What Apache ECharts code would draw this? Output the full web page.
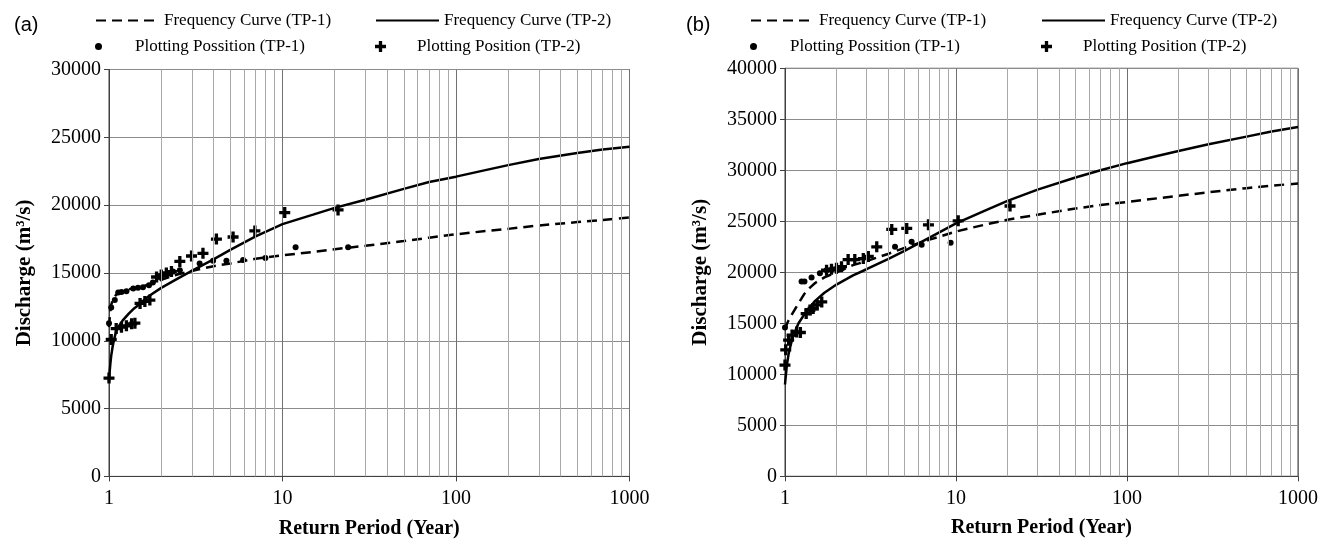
<!DOCTYPE html>
<html>
<head>
<meta charset="utf-8">
<script src="https://cdn.jsdelivr.net/npm/echarts@6/dist/echarts.min.js"></script>
<style>html,body{margin:0;padding:0;background:#fff;}#c{width:1332px;height:544px;}</style>
</head>
<body>
<div id="c"></div>
<script>
// ---------- data ----------
const curveT = [1, 1.01, 1.02, 1.03, 1.05, 1.07, 1.1, 1.15, 1.2, 1.3, 1.4, 1.5, 1.7, 2, 2.5, 3, 4, 5, 7, 10, 15, 20, 30, 50, 70, 100, 150, 200, 300, 500, 700, 1000];
// panel (a)
const aFreq1 = [11000, 11700, 12300, 12650, 13000, 13200, 13400, 13550, 13650, 13800, 13880, 13950, 14150, 14500, 14900, 15150, 15500, 15700, 16050, 16300, 16550, 16750, 17000, 17350, 17600, 17850, 18100, 18250, 18500, 18750, 18900, 19100];
const aFreq2 = [7000, 7800, 8400, 8900, 9600, 10100, 10700, 11150, 11500, 12000, 12400, 12700, 13300, 13900, 14600, 15150, 16000, 16700, 17700, 18600, 19300, 19800, 20400, 21200, 21700, 22100, 22600, 22950, 23400, 23850, 24100, 24300];
const aPos1T = [1.0, 1.03, 1.08, 1.13, 1.18, 1.26, 1.38, 1.47, 1.57, 1.7, 1.79, 1.92, 2.05, 2.19, 2.34, 2.56, 3.33, 3.98, 4.75, 5.93, 7.97, 11.9, 23.9];
const aPos1Q = [11300, 12450, 13000, 13550, 13600, 13650, 13850, 13900, 13950, 14100, 14300, 14700, 14850, 14950, 15100, 15200, 15700, 15900, 15900, 15950, 16100, 16900, 16900];
const aPos2T = [1.0, 1.03, 1.1, 1.18, 1.26, 1.35, 1.41, 1.51, 1.61, 1.72, 1.88, 2.0, 2.14, 2.29, 2.56, 2.99, 3.48, 4.16, 5.19, 6.93, 10.3, 20.9];
const aPos2Q = [7250, 10100, 10900, 11000, 11100, 11250, 11300, 12750, 12900, 13000, 14700, 14850, 15000, 15100, 15850, 16250, 16450, 17500, 17650, 18100, 19450, 19650];
// panel (b)
const bFreq1 = [14400, 14600, 14800, 15000, 15300, 15550, 15900, 16450, 16950, 17900, 18500, 18950, 19500, 20000, 20700, 21100, 21800, 22400, 23200, 24000, 24700, 25150, 25650, 26250, 26600, 26900, 27250, 27500, 27850, 28250, 28500, 28700];
const bFreq2 = [9000, 9800, 10500, 11100, 12000, 12600, 13400, 14300, 15000, 15900, 16600, 17200, 18000, 18800, 19700, 20300, 21300, 22100, 23400, 24800, 26100, 27000, 28100, 29300, 30000, 30700, 31400, 31900, 32550, 33300, 33800, 34250];
const bPos1T = [1.0, 1.25, 1.3, 1.43, 1.6, 1.75, 1.87, 2.0, 2.15, 4.4, 5.5, 6.3, 9.3];
const bPos1Q = [14600, 19100, 19100, 19500, 19900, 20200, 20250, 20300, 20400, 22500, 23000, 22700, 22900];
const bPos2T = [1.0, 1.01, 1.05, 1.1, 1.17, 1.23, 1.33, 1.4, 1.46, 1.54, 1.64, 1.75, 1.87, 2.0, 2.14, 2.34, 2.56, 2.87, 3.07, 3.44, 4.21, 5.15, 6.9, 10.3, 20.7];
const bPos2Q = [10900, 12400, 13350, 13850, 14150, 14100, 15950, 16300, 16450, 16800, 17100, 20200, 20300, 20400, 20550, 21250, 21250, 21350, 21550, 22500, 24200, 24300, 24650, 25050, 26500];
// axis ticks
const minorT = [2, 3, 4, 5, 6, 7, 8, 9, 20, 30, 40, 50, 60, 70, 80, 90, 200, 300, 400, 500, 600, 700, 800, 900];
const yMaxA = 30000, yMaxB = 40000, yStep = 5000;
const names = ['Frequency Curve (TP-1)', 'Frequency Curve (TP-2)', 'Plotting Possition (TP-1)', 'Plotting Position (TP-2)'];

// ---------- helpers ----------
const zip = (x, y) => x.map((v, i) => [v, y[i]]);
const serif = 'Liberation Serif, Times New Roman, serif';
const plusPath = 'path://M3.5,0h3v3.5h3.5v3h-3.5v3.5h-3v-3.5h-3.5v-3h3.5z';

function mkX(i) {
  return {
    type: 'log', logBase: 10, min: 1, max: 1000, gridIndex: i,
    name: 'Return Period (Year)', nameLocation: 'middle', nameGap: 42,
    nameTextStyle: {fontFamily: serif, fontWeight: 'bold', fontSize: 20, color: '#000'},
    axisLine: {show: true, onZero: false, lineStyle: {color: '#404040', width: 1}},
    axisTick: {show: true, length: 5, lineStyle: {color: '#404040'}},
    axisLabel: {margin: 12, fontFamily: serif, fontSize: 20, color: '#000',
      formatter: v => String(Math.round(v))},
    splitLine: {show: true, lineStyle: {color: '#707070', width: 1}}
  };
}
function mkY(i, max) {
  return {
    type: 'value', min: 0, max: max, interval: yStep, gridIndex: i,
    name: 'Discharge (m³/s)', nameLocation: 'middle', nameGap: 74,
    nameTextStyle: {fontFamily: serif, fontWeight: 'bold', fontSize: 21, color: '#000'},
    axisLine: {show: true, onZero: false, lineStyle: {color: '#404040', width: 1}},
    axisTick: {show: true, length: 5, lineStyle: {color: '#404040'}},
    axisLabel: {margin: 8, fontFamily: serif, fontSize: 20, color: '#000',
      formatter: v => String(v)},
    splitLine: {show: true, lineStyle: {color: '#8c8c8c', width: 1}}
  };
}
function mkSeries(i, f1, f2, p1T, p1Q, p2T, p2Q) {
  return [
    {type: 'line', xAxisIndex: i, yAxisIndex: i, data: [], silent: true, z: 1,
      markLine: {silent: true, animation: false, symbol: ['none', 'none'], label: {show: false},
        lineStyle: {color: '#a8a8a8', width: 1, type: 'solid'},
        emphasis: {disabled: true},
        data: minorT.map(v => ({xAxis: v}))}},
    {type: 'line', name: names[0], xAxisIndex: i, yAxisIndex: i, data: zip(curveT, f1), z: 3,
      symbol: 'none', showSymbol: false, smooth: false,
      lineStyle: {type: [10, 6], width: 2.5, color: '#000'}, itemStyle: {color: '#000'}},
    {type: 'line', name: names[1], xAxisIndex: i, yAxisIndex: i, data: zip(curveT, f2), z: 3,
      symbol: 'none', showSymbol: false, smooth: false,
      lineStyle: {type: 'solid', width: 2.5, color: '#000'}, itemStyle: {color: '#000'}},
    {type: 'scatter', name: names[2], xAxisIndex: i, yAxisIndex: i, data: zip(p1T, p1Q), z: 4,
      symbol: 'circle', symbolSize: 6, itemStyle: {color: '#000', opacity: 1}},
    {type: 'scatter', name: names[3], xAxisIndex: i, yAxisIndex: i, data: zip(p2T, p2Q), z: 4,
      symbol: plusPath, symbolSize: 11, itemStyle: {color: '#000', opacity: 1}}
  ];
}
function mkLeg(name, left, top, iw, ih, hideSym) {
  const l = {data: [name], left: left, top: top, itemWidth: iw, itemHeight: ih, itemGap: 0, padding: 0,
    selectedMode: false, textStyle: {fontFamily: serif, fontSize: 17, color: '#000'}};
  if (hideSym) { l.itemStyle = {opacity: 0, borderWidth: 0}; }
  return l;
}

const option = {
  animation: false,
  backgroundColor: '#fff',
  title: [
    {text: '(a)', left: 9, top: 10, textStyle: {fontFamily: 'Liberation Sans, Arial, sans-serif', fontWeight: 'normal', fontSize: 20, color: '#000'}},
    {text: '(b)', left: 681, top: 10, textStyle: {fontFamily: 'Liberation Sans, Arial, sans-serif', fontWeight: 'normal', fontSize: 20, color: '#000'}}
  ],
  grid: [
    {left: 109, right: 702.5, top: 69.5, bottom: 67.6, show: true, borderColor: '#404040', borderWidth: 1, backgroundColor: 'transparent'},
    {left: 785, right: 34, top: 68.3, bottom: 67.7, show: true, borderColor: '#404040', borderWidth: 1, backgroundColor: 'transparent'}
  ],
  xAxis: [mkX(0), mkX(1)],
  yAxis: [mkY(0, yMaxA), mkY(1, yMaxB)],
  legend: [
    mkLeg(names[0], 95, 12, 63, 14, true), mkLeg(names[1], 375, 12, 63, 14, true),
    mkLeg(names[2], 95, 38, 63, 7, false), mkLeg(names[3], 375, 38, 63, 11, false),
    mkLeg(names[0], 750, 12, 63, 14, true), mkLeg(names[1], 1041, 12, 63, 14, true),
    mkLeg(names[2], 750, 38, 63, 7, false), mkLeg(names[3], 1041, 38, 63, 11, false)
  ],
  series: [].concat(
    mkSeries(0, aFreq1, aFreq2, aPos1T, aPos1Q, aPos2T, aPos2Q),
    mkSeries(1, bFreq1, bFreq2, bPos1T, bPos1Q, bPos2T, bPos2Q)
  )
};
const chart = echarts.init(document.getElementById('c'), null, {renderer: 'canvas'});
chart.setOption(option);
</script>
</body>
</html>
